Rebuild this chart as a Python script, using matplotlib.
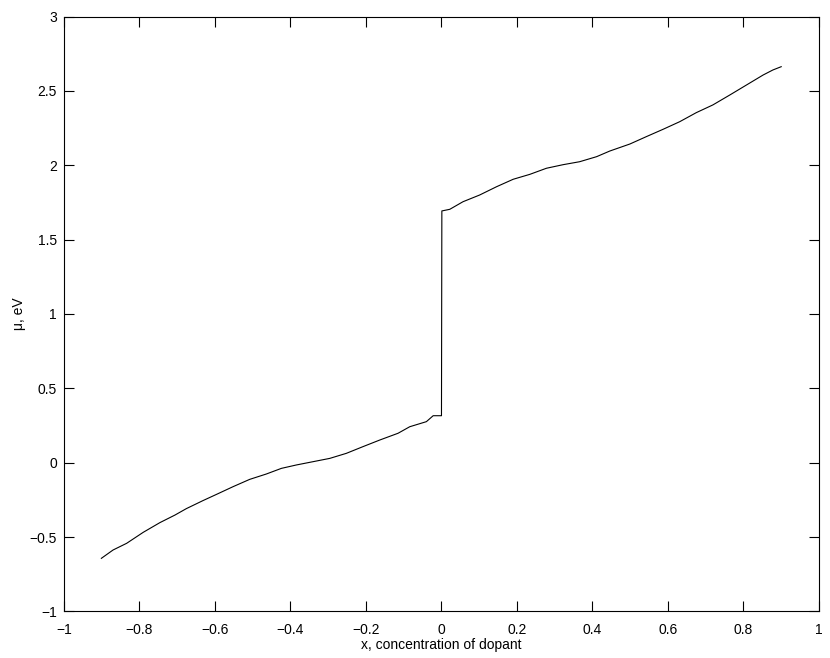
import matplotlib

matplotlib.use("Agg")
import matplotlib.pyplot as plt

# chemical potential vs dopant concentration
x_neg = [-0.901, -0.870, -0.834, -0.790, -0.746, -0.706, -0.676, -0.632, -0.596,
         -0.552, -0.508, -0.464, -0.424, -0.384, -0.340, -0.296, -0.252, -0.208,
         -0.163, -0.115, -0.084, -0.040, -0.022, 0.0]
mu_neg = [-0.643, -0.587, -0.542, -0.468, -0.403, -0.352, -0.309, -0.255, -0.213,
          -0.161, -0.112, -0.076, -0.038, -0.015, 0.007, 0.029, 0.063, 0.108,
          0.153, 0.198, 0.242, 0.276, 0.316, 0.316]
x_pos = [0.001, 0.022, 0.057, 0.101, 0.146, 0.190, 0.234, 0.278, 0.322, 0.366,
         0.411, 0.446, 0.499, 0.543, 0.587, 0.631, 0.675, 0.719, 0.764, 0.808,
         0.852, 0.878, 0.900]
mu_pos = [1.693, 1.704, 1.755, 1.800, 1.856, 1.906, 1.939, 1.980, 2.004, 2.024,
          2.058, 2.096, 2.143, 2.193, 2.242, 2.293, 2.354, 2.406, 2.473, 2.540,
          2.607, 2.641, 2.663]

x_ticks = [-1, -0.8, -0.6, -0.4, -0.2, 0, 0.2, 0.4, 0.6, 0.8, 1]
x_tick_labels = ["\u22121", "\u22120.8", "\u22120.6", "\u22120.4", "\u22120.2", "0",
                 "0.2", "0.4", "0.6", "0.8", "1"]
y_ticks = [-1, -0.5, 0, 0.5, 1, 1.5, 2, 2.5, 3]
y_tick_labels = ["\u22121", "\u22120.5", "0", "0.5", "1", "1.5", "2", "2.5", "3"]

plt.rcParams["font.family"] = ["Liberation Sans", "DejaVu Sans"]
plt.rcParams["font.size"] = 10

fig = plt.figure(figsize=(8.3, 6.58), dpi=100)
ax = fig.add_axes([0.0771, 0.0708, 0.9096, 0.904])

ax.plot(x_neg + x_pos, mu_neg + mu_pos, color="black", linewidth=0.8)

ax.set_xlim(-1, 1)
ax.set_ylim(-1, 3)
ax.set_xticks(x_ticks)
ax.set_xticklabels(x_tick_labels)
ax.set_yticks(y_ticks)
ax.set_yticklabels(y_tick_labels)
ax.tick_params(direction="in", length=7, width=0.8, top=True, right=True)
ax.tick_params(axis="x", pad=8)
ax.tick_params(axis="y", pad=5)
for sp in ax.spines.values():
    sp.set_linewidth(0.8)

ax.set_xlabel("x, concentration of dopant", labelpad=1)
ax.set_ylabel("\u03bc, eV", labelpad=3)

fig.savefig("out.png", dpi=100)
